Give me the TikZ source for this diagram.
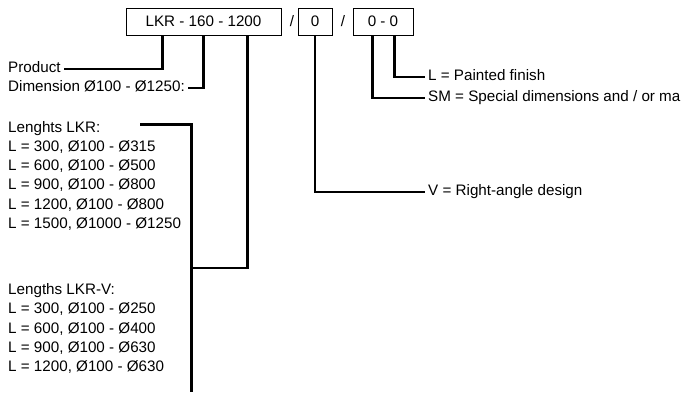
\documentclass[tikz,border=0pt]{standalone}
\usepackage{fontspec}
\setmainfont{Liberation Sans}
\usetikzlibrary{positioning}

\begin{document}
\begin{tikzpicture}[x=1pt, y=-1pt,
  every node/.style={font=\fontsize{15.2}{18}\selectfont},
  codebox/.style={draw, line width=0.9pt, minimum height=27pt, inner sep=0pt},
  lbl/.style={anchor=west, text height=10.5pt, text depth=3pt, inner ysep=0pt, inner xsep=3pt},
  lead/.style={line width=2.2pt}]
\useasboundingbox (0,0) rectangle (683,392);
% type code
\node[codebox, minimum width=155pt] (type) at (203.5,21.5) {LKR - 160 - 1200};
\node (sl1) at (292,21.5) {/};
\node[codebox, minimum width=34pt] (angle) at (315,21.5) {0};
\node (sl2) at (343,21.5) {/};
\node[codebox, minimum width=60pt] (extra) at (383,21.5) {0 - 0};
% legs under the boxes
\path (type.south west) ++(37,0) coordinate (leg1) ++(41,0) coordinate (leg2) ++(44,0) coordinate (leg3);
\path (extra.south west) ++(20,0) coordinate (leg4) ++(22,0) coordinate (leg5);
% left labels
\node[lbl] (product) at (5,69) {Product};
\node[lbl] (dim) at (5,88) {Dimension Ø100 - Ø1250:};
\node[lbl] (len) at (5,128.5) {Lenghts LKR:};
\node[lbl] (len1) at (5,147.7) {L = 300, Ø100 - Ø315};
\node[lbl] (len2) at (5,166.9) {L = 600, Ø100 - Ø500};
\node[lbl] (len3) at (5,186.1) {L = 900, Ø100 - Ø800};
\node[lbl] (len4) at (5,205.3) {L = 1200, Ø100 - Ø800};
\node[lbl] (len5) at (5,224.5) {L = 1500, Ø1000 - Ø1250};
\node[lbl] (lenv) at (5,291) {Lengths LKR-V:};
\node[lbl] (lenv1) at (5,310.2) {L = 300, Ø100 - Ø250};
\node[lbl] (lenv2) at (5,329.4) {L = 600, Ø100 - Ø400};
\node[lbl] (lenv3) at (5,348.6) {L = 900, Ø100 - Ø630};
\node[lbl] (lenv4) at (5,367.8) {L = 1200, Ø100 - Ø630};
% right labels
\node[lbl] (painted) at (425,77) {L = Painted finish};
\node[lbl] (special) at (425,98) {SM = Special dimensions and / or ma};
\node[lbl] (rangle) at (425,192) {V = Right-angle design};
% bracket for the lengths
\coordinate (lentop) at (140,124.5);
\coordinate (lenbot) at (191.5,392);
\coordinate (join) at (191.5,268);
\draw[lead] (lentop) -| (lenbot);
% connectors
\draw[lead] (leg1) |- (product.east);
\draw[lead] (leg2) |- (dim.east);
\draw[lead] (leg3) |- (join);
\draw[lead] (angle.south) |- (rangle.west);
\draw[lead] (leg5) |- (painted.west);
\draw[lead] (leg4) |- (special.west);
\end{tikzpicture}
\end{document}
